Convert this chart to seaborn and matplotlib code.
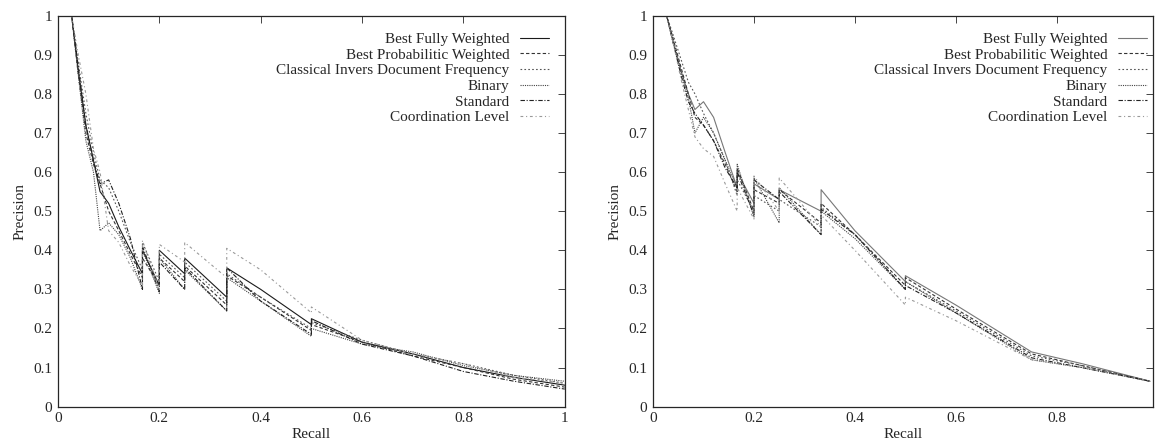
#!/usr/bin/env python3
"""
Precision / recall curves for six term weighting schemes (two test collections).
"""

import numpy as np
import pandas as pd

import matplotlib
matplotlib.use("Agg")
import matplotlib.pyplot as plt
import seaborn as sns

schemes = [
    "Best Fully Weighted",
    "Best Probabilitic Weighted",
    "Classical Invers Document Frequency",
    "Binary",
    "Standard",
    "Coordination Level",
]

# left collection
recall_a = [0.027, 0.04, 0.055, 0.07, 0.083, 0.1, 0.12, 0.143, 0.1667, 0.1667,
            0.2, 0.2, 0.25, 0.25, 0.333, 0.333, 0.4, 0.5, 0.5, 0.6, 0.7, 0.8, 0.9, 1.0]
prec_a = {
    "Best Fully Weighted": [1.0, 0.86, 0.72, 0.63, 0.55, 0.52, 0.46, 0.40, 0.34, 0.40, 0.31, 0.40,
                            0.34, 0.38, 0.28, 0.355, 0.30, 0.21, 0.225, 0.165, 0.135, 0.10, 0.075, 0.055],
    "Best Probabilitic Weighted": [1.0, 0.85, 0.70, 0.62, 0.57, 0.50, 0.45, 0.39, 0.33, 0.38, 0.31, 0.38,
                                   0.32, 0.36, 0.26, 0.335, 0.28, 0.195, 0.21, 0.165, 0.13, 0.10, 0.07, 0.05],
    "Classical Invers Document Frequency": [1.0, 0.88, 0.75, 0.65, 0.58, 0.56, 0.50, 0.42, 0.35, 0.42, 0.32, 0.39,
                                            0.33, 0.37, 0.27, 0.34, 0.28, 0.20, 0.215, 0.17, 0.135, 0.11, 0.08, 0.06],
    "Binary": [1.0, 0.85, 0.68, 0.60, 0.45, 0.47, 0.44, 0.38, 0.30, 0.40, 0.29, 0.38,
               0.30, 0.35, 0.245, 0.33, 0.27, 0.18, 0.20, 0.16, 0.14, 0.105, 0.08, 0.065],
    "Standard": [1.0, 0.87, 0.72, 0.63, 0.57, 0.58, 0.52, 0.43, 0.30, 0.41, 0.295, 0.37,
                 0.30, 0.355, 0.245, 0.355, 0.27, 0.185, 0.22, 0.16, 0.13, 0.09, 0.065, 0.045],
    "Coordination Level": [1.0, 0.90, 0.80, 0.66, 0.60, 0.45, 0.42, 0.36, 0.31, 0.425, 0.30, 0.415,
                           0.37, 0.42, 0.33, 0.405, 0.35, 0.24, 0.255, 0.17, 0.135, 0.11, 0.075, 0.06],
}

# right collection
recall_b = [0.027, 0.04, 0.055, 0.07, 0.083, 0.1, 0.12, 0.143, 0.1667, 0.1667,
            0.2, 0.2, 0.25, 0.25, 0.333, 0.333, 0.4, 0.5, 0.5, 0.6, 0.75, 0.85, 0.985]
prec_b = {
    "Best Fully Weighted": [1.0, 0.93, 0.86, 0.80, 0.76, 0.78, 0.74, 0.65, 0.56, 0.60, 0.52, 0.57,
                            0.53, 0.555, 0.50, 0.555, 0.45, 0.32, 0.335, 0.26, 0.14, 0.11, 0.065],
    "Best Probabilitic Weighted": [1.0, 0.94, 0.87, 0.80, 0.74, 0.72, 0.68, 0.62, 0.55, 0.61, 0.50, 0.555,
                                   0.52, 0.555, 0.47, 0.52, 0.44, 0.31, 0.33, 0.25, 0.135, 0.105, 0.065],
    "Classical Invers Document Frequency": [1.0, 0.95, 0.89, 0.83, 0.80, 0.75, 0.70, 0.63, 0.54, 0.58, 0.50, 0.54,
                                            0.50, 0.53, 0.46, 0.51, 0.44, 0.30, 0.32, 0.245, 0.13, 0.105, 0.065],
    "Binary": [1.0, 0.94, 0.86, 0.79, 0.70, 0.74, 0.70, 0.63, 0.56, 0.62, 0.485, 0.585,
               0.47, 0.56, 0.44, 0.50, 0.43, 0.30, 0.32, 0.24, 0.12, 0.10, 0.065],
    "Standard": [1.0, 0.93, 0.85, 0.78, 0.75, 0.72, 0.68, 0.61, 0.56, 0.60, 0.49, 0.58,
                 0.53, 0.55, 0.44, 0.505, 0.44, 0.30, 0.31, 0.24, 0.125, 0.10, 0.065],
    "Coordination Level": [1.0, 0.93, 0.84, 0.76, 0.69, 0.66, 0.64, 0.57, 0.50, 0.56, 0.48, 0.59,
                           0.50, 0.585, 0.46, 0.49, 0.40, 0.26, 0.28, 0.22, 0.12, 0.10, 0.065],
}

dash_styles = {
    "Best Fully Weighted": "",
    "Best Probabilitic Weighted": (3, 2),
    "Classical Invers Document Frequency": (1.5, 2),
    "Binary": (1, 1),
    "Standard": (4, 1.5, 1, 1.5),
    "Coordination Level": (2.5, 2.5, 1, 2.5),
}
colors_a = ["#1a1a1a", "#333333", "#555555", "#444444", "#222222", "#999999"]
colors_b = ["#777777", "#333333", "#555555", "#444444", "#222222", "#999999"]


def to_frame(recall, prec):
    rows = []
    for name in schemes:
        for r, p in zip(recall, prec[name]):
            rows.append({"Recall": r, "Precision": p, "scheme": name})
    return pd.DataFrame(rows)


def draw(ax, df, colors, xmax, xticks, legend_x):
    sns.lineplot(data=df, x="Recall", y="Precision", hue="scheme", style="scheme",
                 hue_order=schemes, style_order=schemes,
                 palette=dict(zip(schemes, colors)), dashes=dash_styles,
                 estimator=None, sort=False, linewidth=0.8, ax=ax)
    ax.set_xlim(0, xmax)
    ax.set_ylim(0, 1)
    ax.set_xticks(xticks)
    ax.set_xticklabels([f"{t:g}" for t in xticks])
    ax.set_yticks(np.arange(0, 1.01, 0.1))
    ax.set_yticklabels([f"{t:g}" for t in np.round(np.arange(0, 1.01, 0.1), 1)])
    ax.tick_params(direction="in", length=5, width=0.6, top=True, right=True, pad=4)
    for sp in ax.spines.values():
        sp.set_linewidth(0.9)
    ax.set_xlabel("Recall", labelpad=2)
    ax.set_ylabel("Precision", labelpad=5)
    handles, labels = ax.get_legend_handles_labels()
    leg = ax.legend(handles, labels, loc="upper right", bbox_to_anchor=(legend_x, 0.985),
                    frameon=False, markerfirst=False, handlelength=1.9,
                    handletextpad=0.7, labelspacing=0.13, borderaxespad=0.3)
    for line in leg.get_lines():
        line.set_linewidth(0.8)


def main() -> int:
    sns.set_style("white")
    plt.rcParams["font.family"] = ["Liberation Serif", "DejaVu Serif"]
    plt.rcParams["font.size"] = 11

    fig = plt.figure(figsize=(11.55, 4.43), dpi=100)
    ax1 = fig.add_axes([0.0502, 0.082, 0.4388, 0.8826])
    ax2 = fig.add_axes([0.5654, 0.082, 0.4326, 0.8826])

    draw(ax1, to_frame(recall_a, prec_a), colors_a, 1.0, [0, 0.2, 0.4, 0.6, 0.8, 1], 0.99)
    draw(ax2, to_frame(recall_b, prec_b), colors_b, 0.99, [0, 0.2, 0.4, 0.6, 0.8], 1.01)

    fig.savefig("out.png", dpi=100)
    return 0


if __name__ == "__main__":
    raise SystemExit(main())
